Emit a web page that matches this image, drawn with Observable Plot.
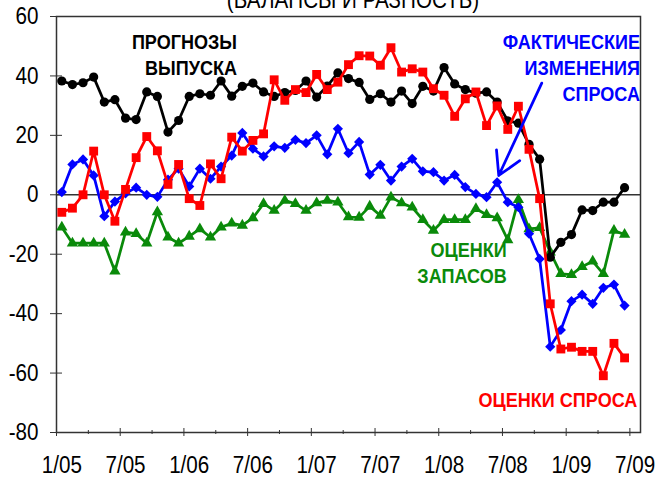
<!DOCTYPE html>
<html><head><meta charset="utf-8">
<script src="https://cdn.jsdelivr.net/npm/d3@7"></script>
<script src="https://cdn.jsdelivr.net/npm/@observablehq/plot@0.6"></script>
<style>
body{margin:0;background:#fff;}
#wrap{position:relative;width:658px;height:480px;overflow:hidden;background:#fff;}
#title{position:absolute;left:0;width:706px;top:-12px;line-height:24px;text-align:center;font-size:24px;font-family:"Liberation Sans",Arial,sans-serif;color:#000;z-index:2;transform:scaleX(0.86);transform-origin:353px 0;}
#chart{position:absolute;left:0;top:0;}
</style></head><body>
<div id="wrap"><div id="chart"></div><div id="title">(БАЛАНСЫ И РАЗНОСТЬ)</div></div>
<script>
// Monthly, Jan 2005 .. Jun 2009 (index 0 = 1/05)
const forecastOutput = [38.3,37.1,37.7,39.6,31.2,32.0,25.8,25.3,34.6,33.1,
  21.1,25.0,33.1,34.0,33.5,38.3,33.2,36.5,37.6,34.6,
  33.1,34.4,35.1,38.3,32.9,36.6,41.0,39.1,37.8,32.1,
  34.0,31.2,34.9,30.7,36.5,34.9,42.8,37.3,35.4,34.2,
  34.6,31.2,24.9,24.1,17.0,12.0,-21.0,-16.0,-13.4,-5.1,
  -5.3,-2.5,-2.5,2.4];
const actualDemand = [0.9,10.2,11.9,6.5,-7.2,-2.3,0.5,2.4,0.0,-0.7,
  5.1,8.8,2.8,8.8,5.4,9.5,13.2,20.8,15.5,12.9,
  16.3,15.8,18.5,17.4,20.0,13.6,22.2,14.0,17.8,6.8,
  10.1,4.8,9.5,12.1,7.9,7.6,4.8,6.7,2.6,0.3,
  -0.8,4.2,-2.5,-4.2,-13.1,-21.6,-51.1,-45.5,-35.8,-33.6,
  -36.7,-31.3,-30.2,-37.3];
const demandAssessment = [-5.9,-4.5,0.0,14.7,0.0,-8.9,1.8,12.5,19.6,14.8,
  3.5,10.2,-1.3,-3.6,10.4,5.4,19.4,14.7,18.3,20.5,
  38.7,31.8,35.4,34.4,40.5,35.4,37.9,43.8,46.8,46.7,
  43.6,49.5,41.3,42.4,41.3,35.7,33.5,26.4,32.3,34.6,
  23.3,29.9,22.0,29.8,15.3,-1.3,-36.7,-51.9,-51.3,-52.7,
  -52.7,-60.9,-50.0,-54.9];
const stockAssessment = [-10.9,-16.3,-16.3,-16.3,-16.3,-25.7,-12.6,-13.1,-16.3,-5.8,
  -14.3,-16.3,-14.0,-11.5,-14.3,-10.9,-9.6,-10.3,-7.8,-3.0,
  -5.3,-1.9,-3.0,-5.3,-2.8,-1.9,-2.5,-7.5,-7.6,-3.9,
  -7.0,-0.8,-2.8,-4.2,-8.4,-12.0,-8.4,-8.4,-8.4,-4.7,
  -6.7,-7.8,-15.2,-1.7,-11.5,-11.1,-19.3,-26.6,-26.9,-24.2,
  -22.4,-26.6,-12.0,-13.4];

const tickLabels = ["1/05","7/05","1/06","7/06","1/07","7/07","1/08","7/08","1/09","7/09"];
const tickMonth = [0,6,12,18,24,30,36,42,48,54];
const yTicks = [-80,-60,-40,-20,0,20,40,60];

const seriesNames = ["ПРОГНОЗЫ\nВЫПУСКА","ФАКТИЧЕСКИЕ\nИЗМЕНЕНИЯ\nСПРОСА","ОЦЕНКИ\nЗАПАСОВ","ОЦЕНКИ СПРОСА"];

const FONT = '"Liberation Sans",Arial,sans-serif';
const toRows = (vals) => vals.map((v, i) => ({i, v}));

const black = toRows(forecastOutput), blue = toRows(actualDemand),
      red = toRows(demandAssessment), green = toRows(stockAssessment);

// annotation anchors (data units: month index, balance)
const labelRows = [
  {x: 16.5, y: 47.6, text: seriesNames[0], fill: "#000000"},
  {x: 54.45, y: 43.1, text: seriesNames[1], fill: "#0000ff"},
  {x: 41.9, y: -22.5, text: seriesNames[2], fill: "#0a8a0a"},
  {x: 54.2, y: -68.6, text: seriesNames[3], fill: "#ff0000"}
];
const arrowRows = [{x1: 45.2, y1: 37.6, x2: 41.15, y2: 6.5}];

const majorB = tickMonth.map(m => m - 0.5);
const minorB = tickMonth.slice(0, -1).map(m => m + 2.5);

const lw = 2.75;
const plot = Plot.plot({
  width: 658, height: 480,
  marginLeft: 56, marginRight: 18, marginTop: 16, marginBottom: 48,
  x: {domain: [-0.5, 54.5], label: null},
  y: {domain: [-80, 60], label: null},
  style: {fontFamily: FONT, fontSize: "24px", color: "#000", background: "transparent"},
  marks: [
    Plot.ruleY([0], {stroke: "#333", strokeWidth: 1.5}),
    Plot.axisY(yTicks, {tickSize: 0, tickPadding: 18, tickFormat: d => String(d), label: null}),
    Plot.axisY(yTicks, {tickSize: 12, dx: 6, fill: "none", stroke: "#333", label: null}),
    Plot.axisX(tickMonth, {tickSize: 0, tickPadding: 23, tickFormat: (d, i) => tickLabels[i], label: null}),
    Plot.axisX(majorB, {tickSize: 8, dy: -4, fill: "none", stroke: "#333", label: null}),
    Plot.axisX(minorB, {tickSize: 4, dy: -2, fill: "none", stroke: "#333", label: null}),
    Plot.frame({stroke: "#333", strokeWidth: 1.5}),
    Plot.line(green, {x: "i", y: "v", stroke: "#0a8a0a", strokeWidth: lw}),
    Plot.dot(green, {x: "i", y: "v", symbol: "triangle", r: 4.2, fill: "#0a8a0a"}),
    Plot.line(blue, {x: "i", y: "v", stroke: "#0000ff", strokeWidth: lw}),
    Plot.dot(blue, {x: "i", y: "v", symbol: "diamond2", r: 4.6, fill: "#0000ff"}),
    Plot.line(black, {x: "i", y: "v", stroke: "#000", strokeWidth: lw}),
    Plot.dot(black, {x: "i", y: "v", symbol: "circle", r: 4.6, fill: "#000"}),
    Plot.line(red, {x: "i", y: "v", stroke: "#ff0000", strokeWidth: lw}),
    Plot.dot(red, {x: "i", y: "v", symbol: "square", r: 5, fill: "#ff0000"}),
    Plot.arrow(arrowRows, {x1: "x1", y1: "y1", x2: "x2", y2: "y2", stroke: "#0000ff", strokeWidth: 2.75, headLength: 14}),
    Plot.text(labelRows, {x: "x", y: "y", text: "text", fill: "fill", textAnchor: "end",
      fontWeight: "bold", fontSize: 21, lineHeight: 1.25, fontFamily: FONT})
  ]
});
// narrow the Arial-like glyphs horizontally, as in the reference
d3.select(plot).selectAll("text").each(function() {
  const t = d3.select(this);
  let tr = t.attr("transform");
  if (!tr) {
    const x = +(t.attr("x") || 0), y = +(t.attr("y") || 0);
    t.attr("x", null).attr("y", null);
    tr = `translate(${x},${y})`;
  }
  t.attr("transform", tr + " scale(0.86,1)");
});
document.getElementById("chart").appendChild(plot);
</script>
</body></html>
